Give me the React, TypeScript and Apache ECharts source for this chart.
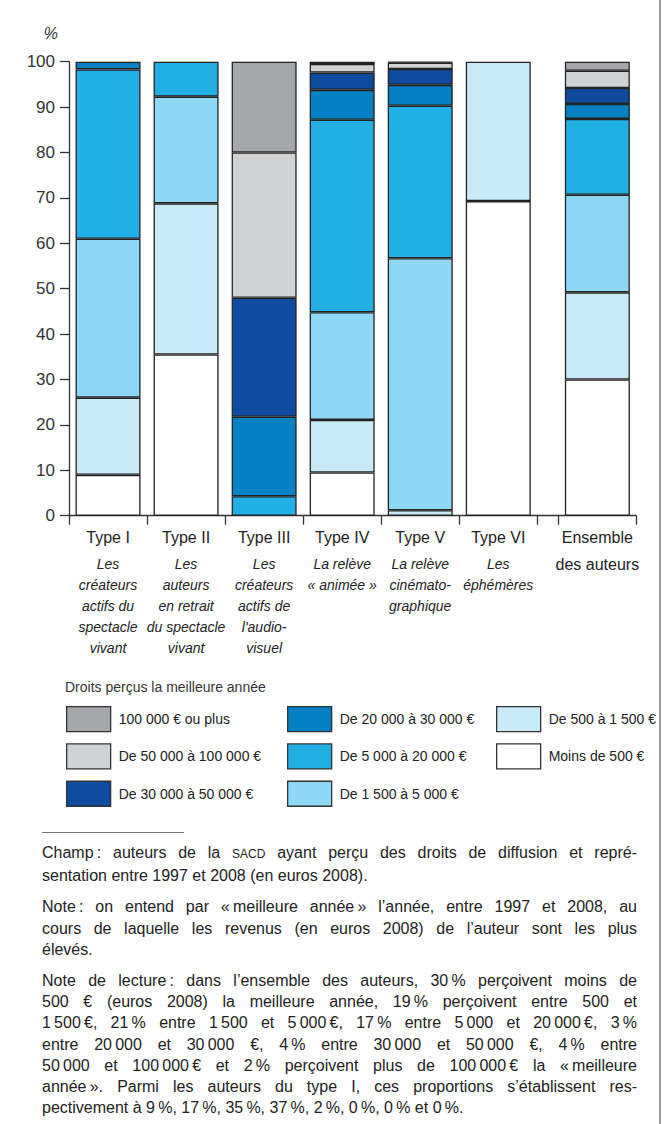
import React, { useEffect, useRef } from 'react';
import * as echarts from 'echarts';

// ---------- data ----------
const typeCategories = ['Type I', 'Type II', 'Type III', 'Type IV', 'Type V', 'Type VI'];
const totalCategory = ['Ensemble'];
const totalSecondLine = 'des auteurs';
const subtitles: Record<string, string[]> = {
  'Type I': ['Les', 'créateurs', 'actifs du', 'spectacle', 'vivant'],
  'Type II': ['Les', 'auteurs', 'en retrait', 'du spectacle', 'vivant'],
  'Type III': ['Les', 'créateurs', 'actifs de', "l'audio-", 'visuel'],
  'Type IV': ['La relève', '« animée »'],
  'Type V': ['La relève', 'cinémato-', 'graphique'],
  'Type VI': ['Les', 'éphémères'],
};

const seriesNames = [
  'Moins de 500 €',
  'De 500 à 1 500 €',
  'De 1 500 à 5 000 €',
  'De 5 000 à 20 000 €',
  'De 20 000 à 30 000 €',
  'De 30 000 à 50 000 €',
  'De 50 000 à 100 000 €',
  '100 000 € ou plus',
];
// values per category: Type I..VI, Ensemble
const moins500 = [9, 35.5, 0, 9.5, 0, 69.3, 30];
const de500a1500 = [17, 33.3, 0, 11.6, 1.2, 30.7, 19.2];
const de1500a5000 = [35, 23.5, 0, 23.7, 55.5, 0, 21.5];
const de5000a20000 = [37.3, 7.7, 4.3, 42.4, 33.6, 0, 16.7];
const de20000a30000 = [1.7, 0, 17.5, 6.6, 4.6, 0, 3.3];
const de30000a50000 = [0, 0, 26.2, 3.8, 3.5, 0, 3.5];
const de50000a100000 = [0, 0, 32, 1.9, 1.4, 0, 3.8];
const plus100000 = [0, 0, 20, 0.5, 0.2, 0, 2];
const seriesValues = [moins500, de500a1500, de1500a5000, de5000a20000, de20000a30000, de30000a50000, de50000a100000, plus100000];
const seriesColors = ['#ffffff', '#c8e9f8', '#8fd8f5', '#21afe6', '#0180c3', '#0f4c9f', '#d1d2d4', '#a6a7aa'];

const legendCols = [
  ['100 000 € ou plus', 'De 50 000 à 100 000 €', 'De 30 000 à 50 000 €'],
  ['De 20 000 à 30 000 €', 'De 5 000 à 20 000 €', 'De 1 500 à 5 000 €'],
  ['De 500 à 1 500 €', 'Moins de 500 €'],
];
const legendTitle = 'Droits perçus la meilleure année';

const NN = '\u202F';
const notes: string[][] = [
  [
    `Champ${NN}: auteurs de la SACD ayant perçu des droits de diffusion et repré-`,
    'sentation entre 1997 et 2008 (en euros 2008).',
  ],
  [
    `Note${NN}: on entend par «${NN}meilleure année${NN}» l’année, entre 1997 et 2008, au`,
    'cours de laquelle les revenus (en euros 2008) de l’auteur sont les plus',
    'élevés.',
  ],
  [
    `Note de lecture${NN}: dans l’ensemble des auteurs, 30${NN}% perçoivent moins de`,
    `500 € (euros 2008) la meilleure année, 19${NN}% perçoivent entre 500 et`,
    `1${NN}500${NN}€, 21${NN}% entre 1${NN}500 et 5${NN}000${NN}€, 17${NN}% entre 5${NN}000 et 20${NN}000${NN}€, 3${NN}%`,
    `entre 20${NN}000 et 30${NN}000 €, 4${NN}% entre 30${NN}000 et 50${NN}000 €, 4${NN}% entre`,
    `50${NN}000 et 100${NN}000${NN}€ et 2${NN}% perçoivent plus de 100${NN}000${NN}€ la «${NN}meilleure`,
    `année${NN}». Parmi les auteurs du type I, ces proportions s’établissent res-`,
    `pectivement à 9${NN}%, 17${NN}%, 35${NN}%, 37${NN}%, 2${NN}%, 0${NN}%, 0${NN}% et 0${NN}%.`,
  ],
];

const SANS = '"Liberation Sans", Arial, Helvetica, sans-serif';

function NoteLine({ text, last }: { text: string; last: boolean }) {
  const parts = text.split('SACD');
  return (
    <div style={{ textAlign: 'justify', textAlignLast: last ? 'left' : 'justify' } as any}>
      {parts.map((p, i) => (
        <React.Fragment key={i}>
          {p}
          {i < parts.length - 1 && <span style={{ fontSize: 12 }}>SACD</span>}
        </React.Fragment>
      ))}
    </div>
  );
}

export default function App() {
  const ref = useRef<HTMLDivElement>(null);

  useEffect(() => {
    if (!ref.current) return;
    const chart = echarts.init(ref.current, null, { renderer: 'svg' });

    const nTypes = typeCategories.length;
    const barStyle = (si: number) => ({ color: seriesColors[si], borderColor: '#222', borderWidth: 1.3 });
    const series: any[] = [];
    seriesNames.forEach((name, si) => {
      series.push({
        name,
        type: 'bar',
        stack: 'types',
        xAxisIndex: 0,
        yAxisIndex: 0,
        barWidth: 65,
        itemStyle: barStyle(si),
        data: seriesValues[si].slice(0, nTypes).map((v) => (v > 0 ? v : '-')),
      });
      series.push({
        name,
        type: 'bar',
        stack: 'total',
        xAxisIndex: 1,
        yAxisIndex: 1,
        barWidth: 65,
        itemStyle: barStyle(si),
        data: seriesValues[si].slice(nTypes).map((v) => (v > 0 ? v : '-')),
      });
    });

    const rich = {
      t: { fontSize: 16, lineHeight: 32, fontFamily: SANS, color: '#222' },
      u: { fontSize: 16, lineHeight: 21, fontFamily: SANS, color: '#222' },
      s: { fontSize: 14, lineHeight: 21, fontFamily: SANS, fontStyle: 'italic', color: '#222' },
    };
    const labelFormatter = (val: string) => {
      const lines = [`{t|${val}}`];
      if (val === totalCategory[0]) lines.push(`{u|${totalSecondLine}}`);
      (subtitles[val] || []).forEach((s) => lines.push(`{s|${s}}`));
      return lines.join('\n');
    };
    const axisLine = { show: true, lineStyle: { color: '#333', width: 1.3 } };
    const catAxis = (gridIndex: number, data: string[]) => ({
      type: 'category',
      gridIndex,
      data,
      boundaryGap: true,
      axisLine,
      axisTick: { show: true, length: 9, interval: 0, alignWithLabel: false, lineStyle: { color: '#333', width: 1.3 } },
      axisLabel: { interval: 0, margin: 6, formatter: labelFormatter, rich, align: 'center' },
      splitLine: { show: false },
    });
    const hiddenY = (gridIndex: number) => ({
      type: 'value',
      gridIndex,
      min: 0,
      max: 100,
      interval: 10,
      show: false,
    });

    const legendLefts = [66, 287, 496];
    const top = 61.7;
    const bottom = 1124 - 515.7;

    chart.setOption({
      animation: false,
      title: {
        text: legendTitle,
        left: 65,
        top: 680,
        padding: 0,
        textStyle: { fontSize: 14, fontWeight: 'normal', color: '#333', fontFamily: SANS },
      },
      legend: legendCols.map((col, i) => ({
        orient: 'vertical',
        left: legendLefts[i],
        top: 706,
        padding: 0,
        itemWidth: 44,
        itemHeight: 25,
        itemGap: 11,
        icon: 'rect',
        selectedMode: false,
        data: col,
        itemStyle: { borderColor: '#333', borderWidth: 1.3 },
        textStyle: { fontSize: 14, color: '#222', fontFamily: SANS, padding: [0, 0, 0, 3] },
      })),
      grid: [
        { left: 69, right: 671 - 537.3, top, bottom },
        { left: 558.7, right: 35, top, bottom },
        { left: 537.3, right: 671 - 558.7, top, bottom },
      ],
      xAxis: [
        catAxis(0, typeCategories),
        catAxis(1, totalCategory),
        {
          type: 'value',
          gridIndex: 2,
          axisLine,
          axisTick: { show: false },
          axisLabel: { show: false },
          splitLine: { show: false },
        },
      ],
      yAxis: [
        {
          type: 'value',
          gridIndex: 0,
          min: 0,
          max: 100,
          interval: 10,
          name: '%',
          nameLocation: 'end',
          nameGap: 20,
          nameTextStyle: { fontSize: 16, fontStyle: 'italic', color: '#333', fontFamily: SANS, align: 'right', padding: [0, 11, 0, 0] },
          splitLine: { show: false },
          axisLine,
          axisTick: { show: true, length: 9, lineStyle: { color: '#333', width: 1.3 } },
          axisLabel: { fontSize: 17, color: '#333', fontFamily: SANS, margin: 14, padding: [0, 0, 10, 0] },
        },
        hiddenY(1),
        hiddenY(2),
      ],
      series,
    });

    return () => chart.dispose();
  }, []);

  return (
    <div style={{ position: 'absolute', left: 0, top: 0, width: 671, height: 1124, background: '#fff', overflow: 'hidden' }}>
      <div ref={ref} style={{ position: 'absolute', left: 0, top: 0, width: 671, height: 1124 }} />
      <div style={{ position: 'absolute', left: 659, top: 0, width: 2, height: 1124, background: '#9a9a9a' }} />
      <div style={{ position: 'absolute', left: 42, top: 832, width: 142, height: 0, borderTop: '1.5px solid #777' }} />
      <div
        style={{
          position: 'absolute',
          left: 42,
          top: 842,
          width: 595,
          fontFamily: SANS,
          fontSize: 16,
          lineHeight: '21.2px',
          color: '#222',
        }}
      >
        {notes.map((para, pi) => (
          <div key={pi} style={{ marginTop: pi === 0 ? 0 : 10 }}>
            {para.map((line, li) => (
              <NoteLine key={li} text={line} last={li === para.length - 1} />
            ))}
          </div>
        ))}
      </div>
    </div>
  );
}
